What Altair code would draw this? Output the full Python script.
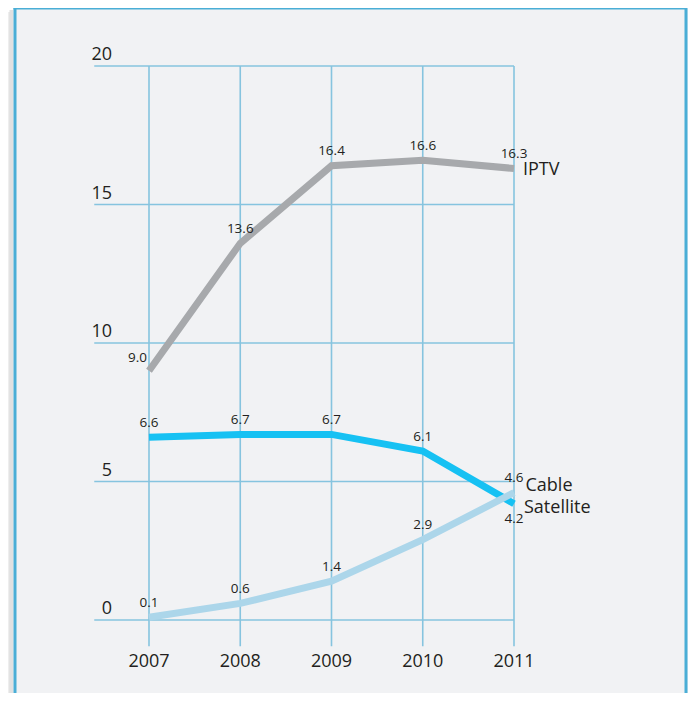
import altair as alt
import pandas as pd

# ---- data ----
years = [2007, 2008, 2009, 2010, 2011]
iptv = [9.0, 13.6, 16.4, 16.6, 16.3]
cable = [6.6, 6.7, 6.7, 6.1, 4.2]
satellite = [0.1, 0.6, 1.4, 2.9, 4.6]
series_names = ["IPTV", "Cable", "Satellite"]
y_ticks = [0, 5, 10, 15, 20]

rows = []
for name, vals in zip(series_names, [iptv, cable, satellite]):
    for yr, v in zip(years, vals):
        rows.append({"series": name, "year": yr, "value": v})
df = pd.DataFrame(rows)
ydf = pd.DataFrame({"v": y_ticks})
xdf = pd.DataFrame({"year": years})

# ---- styles ----
W, H = 673, 685
FONT = "Open Sans"
TXT = "#231f20"
GRID = "#86c4df"
BORDER = "#4aaed6"
COLORS = ["#a7a9ac", "#16c1f3", "#acd6ea"]

XS = alt.Scale(domain=[2007, 2011], range=[134, 499], nice=False, zero=False)
YS = alt.Scale(domain=[0, 20], range=[612, 58], nice=False, zero=False)

grid_h = alt.Chart(ydf).mark_rule(color=GRID, strokeWidth=1.6).encode(
    x=alt.XDatum(2006.4, scale=XS, type="quantitative", axis=None),
    x2=alt.datum(2011),
    y=alt.Y("v:Q", scale=YS, axis=None),
)
grid_v = alt.Chart(xdf).mark_rule(color=GRID, strokeWidth=1.6).encode(
    x=alt.X("year:Q", scale=XS, axis=None),
    y=alt.YDatum(20, scale=YS, type="quantitative", axis=None),
    y2=alt.datum(-0.95),
)
y_labels = alt.Chart(ydf).mark_text(
    font=FONT, fontSize=18, color=TXT, align="right", baseline="alphabetic", dx=-37, dy=-6
).encode(
    x=alt.XDatum(2007, scale=XS, type="quantitative", axis=None),
    y=alt.Y("v:Q", scale=YS, axis=None),
    text=alt.Text("v:Q", format="d"),
)
x_labels = alt.Chart(xdf).mark_text(
    font=FONT, fontSize=18, color=TXT, align="center", baseline="alphabetic", dy=47
).encode(
    x=alt.X("year:Q", scale=XS, axis=None),
    y=alt.YDatum(0, scale=YS, type="quantitative", axis=None),
    text=alt.Text("year:Q", format="d"),
)

lines = alt.Chart(df).mark_line(strokeWidth=7, strokeCap="butt").encode(
    x=alt.X("year:Q", scale=XS, axis=None),
    y=alt.Y("value:Q", scale=YS, axis=None),
    color=alt.Color("series:N", scale=alt.Scale(domain=series_names, range=COLORS), legend=None),
    order=alt.Order("year:Q"),
)

base_txt = alt.Chart(df).encode(
    x=alt.X("year:Q", scale=XS, axis=None),
    y=alt.Y("value:Q", scale=YS, axis=None),
    text=alt.Text("value:Q", format=".1f"),
)
vl_default = base_txt.transform_filter(
    "!((datum.series == 'IPTV' && datum.year == 2007) || (datum.series == 'Cable' && datum.year == 2011))"
).mark_text(font=FONT, fontSize=13.5, color=TXT, align="center", baseline="alphabetic", dy=-10.5)
vl_first = base_txt.transform_filter(
    "datum.series == 'IPTV' && datum.year == 2007"
).mark_text(font=FONT, fontSize=13.5, color=TXT, align="right", baseline="alphabetic", dx=-2, dy=-9)
vl_below = base_txt.transform_filter(
    "datum.series == 'Cable' && datum.year == 2011"
).mark_text(font=FONT, fontSize=13.5, color=TXT, align="center", baseline="alphabetic", dy=19.5)

name_base = alt.Chart(df).transform_filter("datum.year == 2011").encode(
    x=alt.X("year:Q", scale=XS, axis=None),
    y=alt.Y("value:Q", scale=YS, axis=None),
    text="series:N",
)
n_iptv = name_base.transform_filter("datum.series == 'IPTV'").mark_text(
    font=FONT, fontSize=18, color=TXT, align="left", baseline="alphabetic", dx=9, dy=6.5)
n_cable = name_base.transform_filter("datum.series == 'Cable'").mark_text(
    font=FONT, fontSize=18, color=TXT, align="left", baseline="alphabetic", dx=11.5, dy=-12.5)
n_sat = name_base.transform_filter("datum.series == 'Satellite'").mark_text(
    font=FONT, fontSize=18, color=TXT, align="left", baseline="alphabetic", dx=10, dy=20.5)

# ---- frame decoration ----
one = alt.Data(values=[{"k": 1}])
shadow1 = alt.Chart(one).mark_rule(color="#c9c9c9", strokeWidth=4, opacity=0.55).encode(
    x=alt.value(-3.5), y=alt.value(2), y2=alt.value(H))
shadow2 = alt.Chart(one).mark_rule(color="#dddddd", strokeWidth=3, opacity=0.5).encode(
    x=alt.value(-6.5), y=alt.value(4), y2=alt.value(H))
b_left = alt.Chart(one).mark_rule(color=BORDER, strokeWidth=3).encode(
    x=alt.value(0), y=alt.value(-1.5), y2=alt.value(H))
b_top = alt.Chart(one).mark_rule(color=BORDER, strokeWidth=3).encode(
    x=alt.value(-1.5), x2=alt.value(W - 1), y=alt.value(0))
b_right = alt.Chart(one).mark_rule(color=BORDER, strokeWidth=3).encode(
    x=alt.value(W - 2), y=alt.value(-1.5), y2=alt.value(H))

chart = alt.layer(
    shadow2, shadow1, grid_h, grid_v, lines, y_labels, x_labels,
    vl_default, vl_first, vl_below, n_iptv, n_cable, n_sat,
    b_left, b_top, b_right,
).properties(
    width=W, height=H,
    padding={"left": 7, "top": 0, "right": 0, "bottom": 0},
    autosize="none",
    background="white",
).configure_view(fill="#f1f2f4", stroke="transparent")

chart.save("out.html", embed_options={"renderer": "svg", "actions": False})
